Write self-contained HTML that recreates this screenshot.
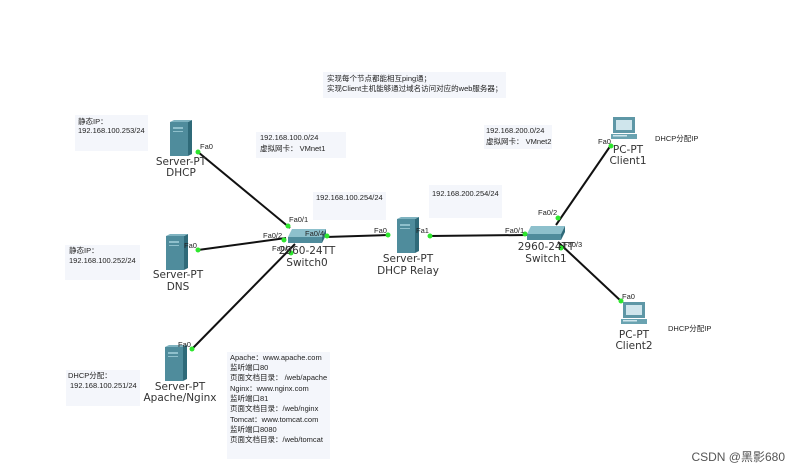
<!DOCTYPE html>
<html><head><meta charset="utf-8"><style>
body{margin:0;background:#fff;}
svg{display:block;font-family:"Liberation Sans","Noto Sans CJK SC",sans-serif;}
.n{font-size:10.5px;fill:#333;text-anchor:middle;font-family:"DejaVu Sans",sans-serif;}
.p{font-size:7.5px;fill:#222;}
.t{font-size:7.5px;fill:#222;}
.b{fill:#f4f6fb;}
</style></head><body>
<svg width="794" height="476" viewBox="0 0 794 476">
<defs>
<g id="srv">
<rect x="0" y="2" width="18" height="34" fill="#4f8c9c"/>
<polygon points="18,2 22,0 22,34 18,36" fill="#2f6a79"/>
<polygon points="0,2 4,0 22,0 18,2" fill="#7fb3c0"/>
<rect x="3" y="7" width="10" height="2" fill="#8fc0cc"/>
<rect x="3" y="11" width="10" height="1" fill="#8fc0cc"/>
</g>
<g id="pc">
<rect x="2" y="0" width="22" height="16" fill="#5e97a6"/>
<rect x="5" y="3" width="16" height="10" fill="#cfe5ec"/>
<rect x="0" y="17" width="26" height="5" fill="#6aa3b1"/>
<rect x="2" y="18" width="14" height="1.5" fill="#cfe5ec"/>
</g>
<g id="sw">
<polygon points="4,0 38,0 34,8 0,8" fill="#8dc0cc"/>
<polygon points="0,8 34,8 34,14 0,14" fill="#4f8c9c"/>
<polygon points="34,8 38,0 38,6 34,14" fill="#2f6a79"/>
</g>
</defs>
<!-- text boxes -->
<rect class="b" x="75" y="115" width="73" height="36"/>
<text class="t" x="78" y="124">静态IP：</text><text class="t" x="78" y="133">192.168.100.253/24</text>
<rect class="b" x="256" y="132" width="90" height="26"/>
<text class="t" x="260" y="140">192.168.100.0/24</text><text class="t" x="260" y="151">虚拟网卡：  VMnet1</text>
<rect class="b" x="313" y="192" width="73" height="28"/>
<text class="t" x="316" y="200">192.168.100.254/24</text>
<rect class="b" x="65" y="245" width="75" height="35"/>
<text class="t" x="69" y="253">静态IP：</text><text class="t" x="69" y="263">192.168.100.252/24</text>
<rect class="b" x="66" y="370" width="74" height="36"/>
<text class="t" x="68" y="378">DHCP分配：</text><text class="t" x="70" y="388">192.168.100.251/24</text>
<rect class="b" x="227" y="352" width="103" height="107"/>
<text class="t" x="230" y="360">Apache：www.apache.com</text>
<text class="t" x="230" y="370">监听端口80</text>
<text class="t" x="230" y="380">页面文档目录：  /web/apache</text>
<text class="t" x="230" y="391">Nginx：www.nginx.com</text>
<text class="t" x="230" y="401">监听端口81</text>
<text class="t" x="230" y="411">页面文档目录：/web/nginx</text>
<text class="t" x="230" y="422">Tomcat：www.tomcat.com</text>
<text class="t" x="230" y="432">监听端口8080</text>
<text class="t" x="230" y="442">页面文档目录：/web/tomcat</text>
<rect class="b" x="323" y="72" width="183" height="26"/>
<text class="t" x="327" y="81">实现每个节点都能相互ping通；</text>
<text class="t" x="327" y="91">实现Client主机能够通过域名访问对应的web服务器；</text>
<rect class="b" x="484" y="125" width="68" height="24"/>
<text class="t" x="486" y="133">192.168.200.0/24</text><text class="t" x="486" y="144">虚拟网卡：  VMnet2</text>
<rect class="b" x="429" y="185" width="73" height="33"/>
<text class="t" x="432" y="196">192.168.200.254/24</text>
<text class="t" x="655" y="141">DHCP分配IP</text>
<text class="t" x="668" y="331">DHCP分配IP</text>
<!-- links -->
<g stroke="#111" stroke-width="2">
<line x1="198" y1="152" x2="290" y2="228"/>
<line x1="198" y1="250" x2="286" y2="238"/>
<line x1="192" y1="349" x2="295" y2="244"/>
<line x1="326" y1="237" x2="388" y2="235"/>
<line x1="430" y1="236" x2="527" y2="235"/>
<line x1="556" y1="225" x2="611" y2="145"/>
<line x1="558" y1="242" x2="622" y2="302"/>
</g>
<!-- devices -->
<use href="#srv" x="170" y="120"/>
<use href="#srv" x="166" y="234"/>
<use href="#srv" x="165" y="345"/>
<use href="#srv" x="397" y="217"/>
<use href="#sw" x="288" y="229"/>
<use href="#sw" x="527" y="226"/>
<use href="#pc" x="611" y="117"/>
<use href="#pc" x="621" y="302"/>
<!-- dots -->
<g fill="#2ee62e">
<circle cx="198" cy="152" r="2.5"/><circle cx="288" cy="226" r="2.5"/>
<circle cx="198" cy="250" r="2.5"/><circle cx="284" cy="240" r="2.5"/>
<circle cx="192" cy="349" r="2.5"/><circle cx="291" cy="253" r="2.5"/>
<circle cx="327" cy="236" r="2.5"/><circle cx="388" cy="235" r="2.5"/>
<circle cx="430" cy="236" r="2.5"/><circle cx="525" cy="234" r="2.5"/>
<circle cx="558" cy="218" r="2.5"/><circle cx="561" cy="248" r="2.5"/>
<circle cx="611" cy="146" r="2.5"/><circle cx="621" cy="301" r="2.5"/>
</g>
<!-- port labels -->
<g class="p">
<text x="200" y="149">Fa0</text>
<text x="289" y="222">Fa0/1</text>
<text x="263" y="238">Fa0/2</text>
<text x="272" y="251">Fa0/3</text>
<text x="305" y="236">Fa0/4</text>
<text x="184" y="248">Fa0</text>
<text x="178" y="347">Fa0</text>
<text x="374" y="233">Fa0</text>
<text x="416" y="233">Fa1</text>
<text x="505" y="233">Fa0/1</text>
<text x="538" y="215">Fa0/2</text>
<text x="563" y="247">Fa0/3</text>
<text x="598" y="144">Fa0</text>
<text x="622" y="299">Fa0</text>
</g>
<!-- node labels -->
<text class="n" x="181" y="165">Server-PT</text><text class="n" x="181" y="176">DHCP</text>
<text class="n" x="178" y="278">Server-PT</text><text class="n" x="178" y="290">DNS</text>
<text class="n" x="180" y="390">Server-PT</text><text class="n" x="180" y="401">Apache/Nginx</text>
<text class="n" x="307" y="254">2960-24TT</text><text class="n" x="307" y="266">Switch0</text>
<text class="n" x="408" y="262">Server-PT</text><text class="n" x="408" y="274">DHCP Relay</text>
<text class="n" x="546" y="250">2960-24TT</text><text class="n" x="546" y="262">Switch1</text>
<text class="n" x="628" y="153">PC-PT</text><text class="n" x="628" y="164">Client1</text>
<text class="n" x="634" y="338">PC-PT</text><text class="n" x="634" y="349">Client2</text>
<text x="785" y="461" style="font-size:12px;fill:#555;text-anchor:end">CSDN @黑影680</text>
</svg>
</body></html>
